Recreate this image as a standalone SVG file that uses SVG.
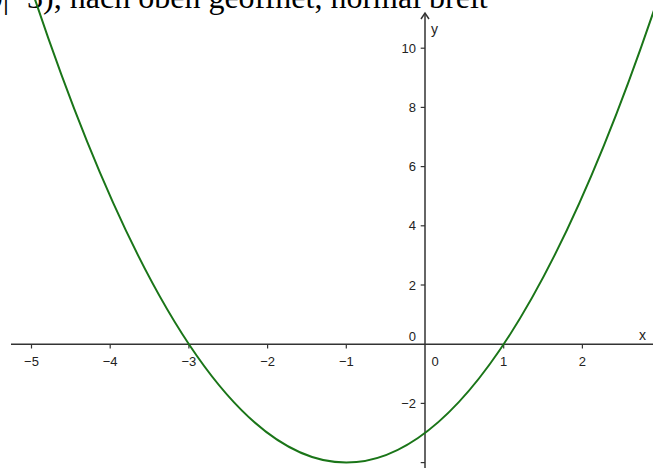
<svg xmlns="http://www.w3.org/2000/svg" width="653" height="468" viewBox="0 0 653 468">
<style>
.ax{stroke:#333;stroke-width:1.5;fill:none}
.tk{stroke:#333;stroke-width:1.2}
.lb{font-family:"Liberation Sans",Arial,sans-serif;font-size:13px;fill:#222}
.al{font-family:"Liberation Sans",Arial,sans-serif;font-size:14px;fill:#222}
.title{font-family:"Liberation Serif","Times New Roman",serif;font-size:32px;fill:#000}
.curve{stroke:#1a7518;stroke-width:2;fill:none}
</style>
<rect width="653" height="468" fill="#fff"/>
<text class="title" x="-24" y="8">(0|−3), nach oben geöffnet, normal breit</text>
<g id="axes">
<line class="ax" x1="11" y1="344.2" x2="653" y2="344.2"/>
<line class="ax" x1="425" y1="468" x2="425" y2="13"/>
<polyline class="ax" points="421,19 425,13 429,19"/>
<g id="xticks">
<line class="tk" x1="31.5" y1="344.2" x2="31.5" y2="348.5"/>
<line class="tk" x1="110.2" y1="344.2" x2="110.2" y2="348.5"/>
<line class="tk" x1="188.9" y1="344.2" x2="188.9" y2="348.5"/>
<line class="tk" x1="267.6" y1="344.2" x2="267.6" y2="348.5"/>
<line class="tk" x1="346.3" y1="344.2" x2="346.3" y2="348.5"/>
<line class="tk" x1="503.7" y1="344.2" x2="503.7" y2="348.5"/>
<line class="tk" x1="582.4" y1="344.2" x2="582.4" y2="348.5"/>
</g>
<g id="yticks">
<line class="tk" x1="420.7" y1="48.2" x2="425" y2="48.2"/>
<line class="tk" x1="420.7" y1="107.4" x2="425" y2="107.4"/>
<line class="tk" x1="420.7" y1="166.6" x2="425" y2="166.6"/>
<line class="tk" x1="420.7" y1="225.8" x2="425" y2="225.8"/>
<line class="tk" x1="420.7" y1="285" x2="425" y2="285"/>
<line class="tk" x1="420.7" y1="403.4" x2="425" y2="403.4"/>
<line class="tk" x1="420.7" y1="462.6" x2="425" y2="462.6"/>
</g>
<g id="xlabels" text-anchor="middle">
<text class="lb" x="31.5" y="365.5">−5</text>
<text class="lb" x="110.2" y="365.5">−4</text>
<text class="lb" x="188.9" y="365.5">−3</text>
<text class="lb" x="267.6" y="365.5">−2</text>
<text class="lb" x="346.3" y="365.5">−1</text>
<text class="lb" x="435" y="365.5">0</text>
<text class="lb" x="503.7" y="365.5">1</text>
<text class="lb" x="582.4" y="365.5">2</text>
</g>
<g id="ylabels" text-anchor="end">
<text class="lb" x="416" y="52.8">10</text>
<text class="lb" x="416" y="112">8</text>
<text class="lb" x="416" y="171.2">6</text>
<text class="lb" x="416" y="230.4">4</text>
<text class="lb" x="416" y="289.6">2</text>
<text class="lb" x="416" y="340.5">0</text>
<text class="lb" x="416" y="408">−2</text>
</g>
<text class="al" x="431" y="34">y</text>
<text class="al" x="639" y="340">x</text>
</g>
<g id="connectors">
<path id="parabola" class="curve" d="M31.5,-11 Q346.3,936.2 661.1,-11"/>
</g>
</svg>
